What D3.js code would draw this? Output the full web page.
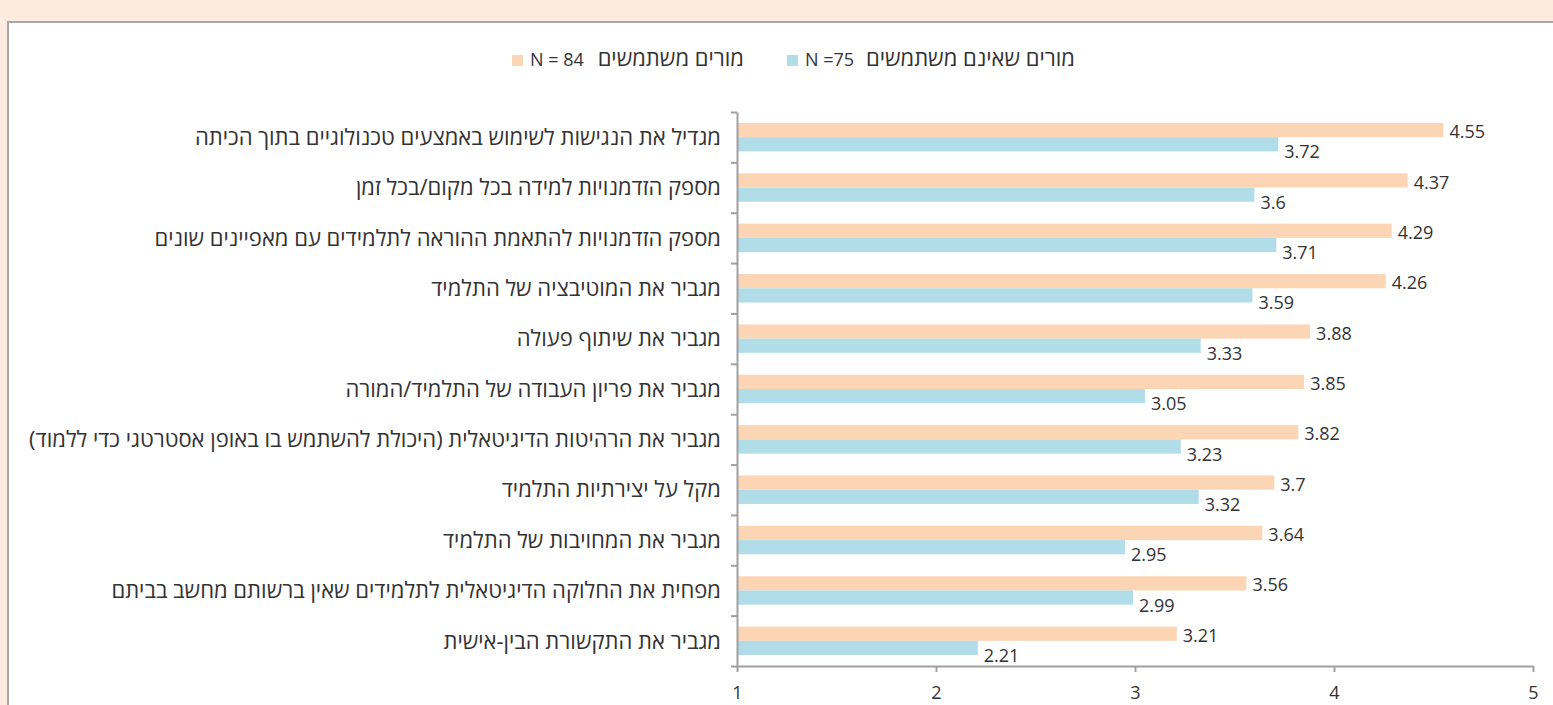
<!DOCTYPE html>
<html>
<head>
<meta charset="utf-8">
<script src="https://cdn.jsdelivr.net/npm/d3@7/dist/d3.min.js"></script>
<style>
  body { margin: 0; background: #fdebdf; }
  text { font-family: "Open Sans", sans-serif; fill: #333; }
</style>
</head>
<body>
<div id="chart"></div>
<script>
// categories (top to bottom)
var categories = [
  "מגדיל את הנגישות לשימוש באמצעים טכנולוגיים בתוך הכיתה",
  "מספק הזדמנויות למידה בכל מקום/בכל זמן",
  "מספק הזדמנויות להתאמת ההוראה לתלמידים עם מאפיינים שונים",
  "מגביר את המוטיבציה של התלמיד",
  "מגביר את שיתוף פעולה",
  "מגביר את פריון העבודה של התלמיד/המורה",
  "מגביר את הרהיטות הדיגיטאלית (היכולת להשתמש בו באופן אסטרטגי כדי ללמוד)",
  "מקל על יצירתיות התלמיד",
  "מגביר את המחויבות של התלמיד",
  "מפחית את החלוקה הדיגיטאלית לתלמידים שאין ברשותם מחשב בביתם",
  "מגביר את התקשורת הבין-אישית"
];
// series values
var users = [4.55, 4.37, 4.29, 4.26, 3.88, 3.85, 3.82, 3.7, 3.64, 3.56, 3.21];
var nonUsers = [3.72, 3.6, 3.71, 3.59, 3.33, 3.05, 3.23, 3.32, 2.95, 2.99, 2.21];
var xTicks = [1, 2, 3, 4, 5];

var W = 1553, H = 705;
var plot = {left: 737, right: 1533, top: 112, bottom: 666};

var svg = d3.select("#chart").append("svg")
    .attr("width", W)
    .attr("height", H);

// outer chart area
svg.append("rect")
    .attr("width", W).attr("height", H)
    .attr("fill", "#fdebdf");
svg.append("rect")
    .attr("x", 8).attr("y", 22)
    .attr("width", W).attr("height", H)
    .attr("fill", "#fff")
    .attr("stroke", "#a6a6a6")
    .attr("stroke-width", 2);

// scales
var x = d3.scaleLinear().domain([1, 5]).range([plot.left, plot.right]);
var y = d3.scaleBand().domain(d3.range(categories.length)).range([plot.top, plot.bottom]);
var yIdx = d3.scaleLinear().domain([0, categories.length]).range([plot.top, plot.bottom]);
var ySub = d3.scaleBand().domain(["users", "nonUsers"]).range([0, y.bandwidth()]).paddingOuter(0.77);

var colors = {users: "#fcd5b5", nonUsers: "#b1dde8"};

var rows = categories.map(function(c, i) {
  return {i: i, name: c, users: users[i], nonUsers: nonUsers[i]};
});

// bars
["users", "nonUsers"].forEach(function(key) {
  svg.selectAll(".bar-" + key)
      .data(rows)
    .enter().append("rect")
      .attr("class", "bar-" + key)
      .attr("x", x(1))
      .attr("y", function(d) { return y(d.i) + ySub(key); })
      .attr("width", function(d) { return x(d[key]) - x(1); })
      .attr("height", ySub.bandwidth())
      .attr("fill", colors[key]);

  svg.selectAll(".lbl-" + key)
      .data(rows)
    .enter().append("text")
      .attr("class", "lbl-" + key)
      .attr("x", function(d) { return x(d[key]) + 6; })
      .attr("y", function(d) { return y(d.i) + ySub(key) + ySub.bandwidth() + (key == "users" ? 1 : 7); })
      .style("font-size", "18px")
      .text(function(d) { return d[key]; });
});

// x axis
var xAxis = svg.append("g")
    .attr("transform", "translate(0," + plot.bottom + ")")
    .call(d3.axisBottom(x).tickValues(xTicks).tickSize(6).tickSizeOuter(0).tickPadding(14).tickFormat(d3.format("d")));
xAxis.select(".domain").attr("stroke", "#a0a0a0").attr("stroke-width", 2);
xAxis.selectAll(".tick line").attr("stroke", "#a0a0a0").attr("stroke-width", 2);
xAxis.selectAll(".tick text").style("font-size", "18px").attr("fill", "#333");

// y axis
var yAxis = svg.append("g")
    .attr("transform", "translate(" + plot.left + ",0)")
    .call(d3.axisLeft(yIdx).tickValues(d3.range(categories.length + 1)).tickSize(6).tickSizeOuter(0).tickFormat(""));
yAxis.select(".domain").attr("stroke", "#a0a0a0").attr("stroke-width", 2);
yAxis.selectAll(".tick line").attr("stroke", "#a0a0a0").attr("stroke-width", 2);

// category labels
svg.selectAll(".cat")
    .data(rows)
  .enter().append("text")
    .attr("class", "cat")
    .attr("x", 721)
    .attr("y", function(d) { return y(d.i) + y.bandwidth() / 2; })
    .attr("dy", "0.35em")
    .attr("direction", "rtl")
    .attr("text-anchor", "start")
    .style("font-size", "22px")
    .text(function(d) { return d.name; });

// legend
var legend = [
  {key: "users", n: "N = 84", label: "מורים משתמשים", x: 512},
  {key: "nonUsers", n: "N =75", label: "מורים שאינם משתמשים", x: 787}
];
var lg = svg.selectAll(".legend")
    .data(legend)
  .enter().append("g")
    .attr("class", "legend")
    .attr("transform", function(d) { return "translate(" + d.x + ",55)"; });
lg.append("rect")
    .attr("width", 11).attr("height", 11)
    .attr("fill", function(d) { return colors[d.key]; });
lg.append("text")
    .attr("x", 18).attr("y", 11)
    .style("font-size", "18px")
    .text(function(d) { return d.n; });
lg.append("text")
    .attr("x", function(d) { return d.key == "users" ? 232 : 288; })
    .attr("y", 11)
    .attr("direction", "rtl")
    .attr("text-anchor", "start")
    .style("font-size", "22px")
    .text(function(d) { return d.label; });
</script>
</body>
</html>
